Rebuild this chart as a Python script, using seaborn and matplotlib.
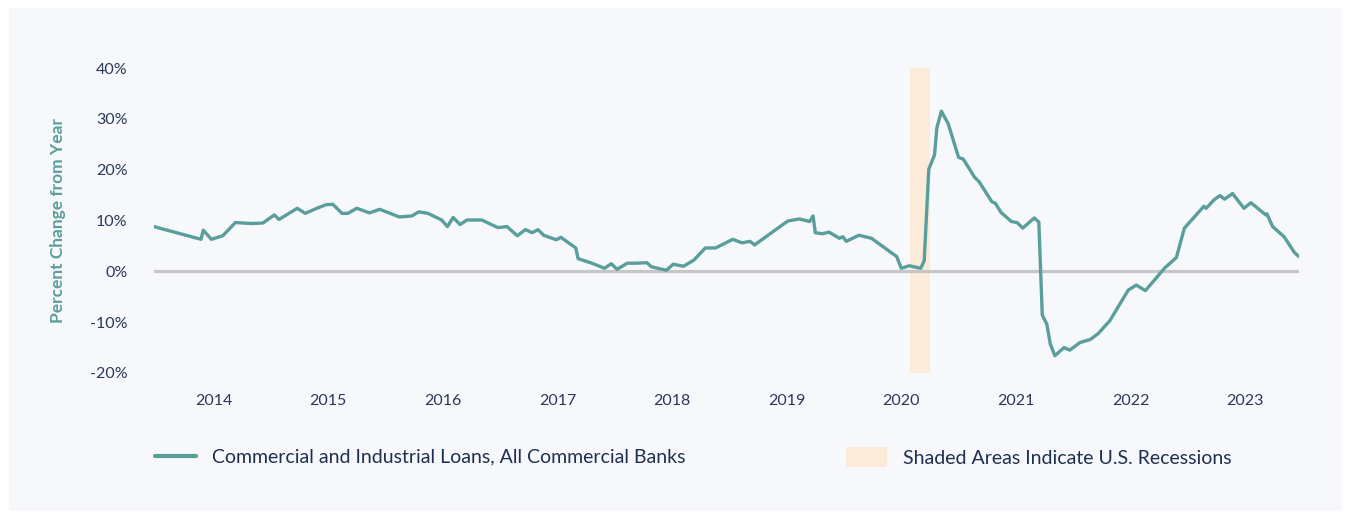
import numpy as np
import pandas as pd
import matplotlib
matplotlib.use("Agg")
import matplotlib.pyplot as plt
from matplotlib.patches import Rectangle, Patch
from matplotlib.lines import Line2D
import seaborn as sns

# ---- data (decimal year, % change from year ago) ----
years = [2013.48, 2013.89, 2013.91, 2013.98, 2014.08, 2014.19, 2014.33, 2014.43, 2014.53, 2014.57,
         2014.73, 2014.80, 2014.90, 2014.98, 2015.04, 2015.12, 2015.17, 2015.25, 2015.36, 2015.45,
         2015.62, 2015.73, 2015.79, 2015.87, 2015.99, 2016.04, 2016.09, 2016.15, 2016.21, 2016.34,
         2016.48, 2016.56, 2016.65, 2016.72, 2016.78, 2016.83, 2016.88, 2016.99, 2017.03, 2017.16,
         2017.18, 2017.30, 2017.41, 2017.47, 2017.52, 2017.61, 2017.69, 2017.78, 2017.82, 2017.95,
         2018.01, 2018.10, 2018.19, 2018.29, 2018.38, 2018.53, 2018.61, 2018.68, 2018.72, 2019.01,
         2019.11, 2019.20, 2019.23, 2019.25, 2019.31, 2019.37, 2019.46, 2019.49, 2019.52, 2019.63,
         2019.74, 2019.96, 2020.00, 2020.07, 2020.17, 2020.20, 2020.24, 2020.29, 2020.31, 2020.35,
         2020.41, 2020.50, 2020.54, 2020.64, 2020.68, 2020.79, 2020.82, 2020.87, 2020.96, 2021.01,
         2021.06, 2021.16, 2021.20, 2021.23, 2021.27, 2021.30, 2021.34, 2021.42, 2021.47, 2021.56,
         2021.65, 2021.72, 2021.82, 2021.98, 2022.05, 2022.13, 2022.30, 2022.40, 2022.47, 2022.64,
         2022.66, 2022.73, 2022.78, 2022.82, 2022.89, 2022.99, 2023.05, 2023.18, 2023.19, 2023.24,
         2023.34, 2023.43, 2023.47]
pct_change = [8.8, 6.3, 8.1, 6.3, 7.0, 9.6, 9.4, 9.5, 11.1, 10.2,
              12.4, 11.4, 12.4, 13.1, 13.2, 11.4, 11.4, 12.4, 11.5, 12.2,
              10.7, 10.9, 11.7, 11.4, 10.1, 8.8, 10.6, 9.2, 10.1, 10.1,
              8.6, 8.8, 7.0, 8.2, 7.6, 8.2, 7.1, 6.2, 6.7, 4.6,
              2.5, 1.6, 0.6, 1.5, 0.4, 1.6, 1.6, 1.7, 0.9, 0.2,
              1.4, 1.0, 2.2, 4.6, 4.6, 6.3, 5.6, 5.9, 5.2, 9.9,
              10.3, 9.8, 10.9, 7.6, 7.4, 7.7, 6.5, 6.8, 5.9, 7.1,
              6.5, 2.9, 0.6, 1.1, 0.6, 2.1, 20.1, 22.9, 28.2, 31.5,
              29.0, 22.4, 22.1, 18.5, 17.6, 13.7, 13.4, 11.6, 9.8, 9.6,
              8.5, 10.5, 9.7, -8.6, -10.4, -14.3, -16.6, -15.0, -15.5, -14.0,
              -13.4, -12.2, -9.7, -3.7, -2.7, -3.8, 0.7, 2.7, 8.5, 12.8,
              12.4, 14.1, 14.9, 14.2, 15.3, 12.4, 13.5, 11.1, 11.3, 8.8,
              6.8, 3.7, 2.9]
recession_start = 2020.08
recession_end = 2020.25
year_ticks = [2014, 2015, 2016, 2017, 2018, 2019, 2020, 2021, 2022, 2023]
y_ticks = [-20, -10, 0, 10, 20, 30, 40]
series_label = "Commercial and Industrial Loans, All Commercial Banks"
recession_label = "Shaded Areas Indicate U.S. Recessions"
y_label = "Percent Change from Year"

df = pd.DataFrame({"year": years, "pct": pct_change})

# ---- style ----
sns.set_style("white")
plt.rcParams["font.family"] = ["Lato", "DejaVu Sans"]

LINE = "#5A9E9B"
NAVY = "#2B3856"
LEGTXT = "#1F2F4F"
SHADE = "#FBEBD8"
PANEL = "#F6F8FC"

W, H = 1351, 519
fig = plt.figure(figsize=(W / 100, H / 100), dpi=100)
fig.patch.set_facecolor("white")
fig.patches.append(Rectangle((9 / W, 8 / H), (W - 18) / W, (H - 16) / H,
                             transform=fig.transFigure, facecolor=PANEL,
                             edgecolor="none", zorder=-5))

ax = fig.add_axes([154 / W, (H - 373) / H, (1299 - 154) / W, (373 - 68) / H])
ax.set_facecolor("none")
ax.set_zorder(2)

ax.axvspan(recession_start, recession_end, color=SHADE, lw=0, zorder=1)
ax.axhline(0, color="#C6C6C8", lw=2.3, zorder=2)
sns.lineplot(data=df, x="year", y="pct", ax=ax, color=LINE, lw=2.4, zorder=3,
             legend=False, estimator=None, sort=False)

ax.set_xlim(years[0], years[-1])
ax.set_ylim(-20, 40)
ax.set_xticks(year_ticks)
ax.set_xticklabels([str(y) for y in year_ticks])
ax.set_yticks(y_ticks)
ax.set_yticklabels([f"{v}%" for v in y_ticks])
ax.tick_params(axis="both", length=0, colors=NAVY, labelsize=11.5)
ax.tick_params(axis="y", pad=19)
ax.tick_params(axis="x", pad=15)
for s in ax.spines.values():
    s.set_visible(False)
ax.grid(False)
ax.set_xlabel("")
ax.set_ylabel(y_label, color=LINE, fontsize=12.5, fontweight="bold", labelpad=17)

h1 = Line2D([0], [0], color=LINE, lw=3)
h2 = Patch(facecolor=SHADE, edgecolor="none")
leg1 = fig.legend([h1], [series_label], loc="center left",
                  bbox_to_anchor=(155 / W, (H - 457) / H), frameon=False,
                  fontsize=14, handlelength=2.1, handletextpad=0.85,
                  borderpad=0, borderaxespad=0, labelcolor=LEGTXT)
leg2 = fig.legend([h2], [recession_label], loc="center left",
                  bbox_to_anchor=(846 / W, (H - 457) / H), frameon=False,
                  fontsize=14, handlelength=2.1, handleheight=1.2, handletextpad=0.85,
                  borderpad=0, borderaxespad=0, labelcolor=LEGTXT)

fig.savefig("out.png", dpi=100, facecolor=fig.get_facecolor())
